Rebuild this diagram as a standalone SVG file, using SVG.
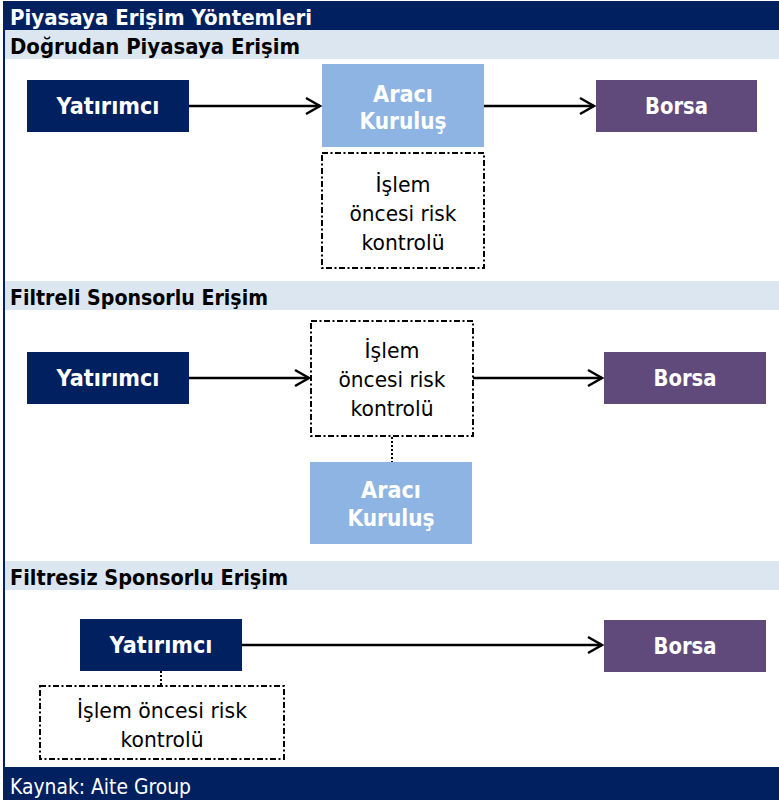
<svg xmlns="http://www.w3.org/2000/svg" width="779" height="803" viewBox="0 0 779 803">
<style>
.navy{fill:#002060}
.band{fill:#DCE6F1}
.inv{fill:#002060}
.bro{fill:#8DB4E2}
.exc{fill:#604A7B}
.risk{fill:#fff;stroke:#000;stroke-width:2;stroke-dasharray:6 2.5 2 2.5}
.hd{font-family:"DejaVu Sans",sans-serif;font-weight:bold;font-size:22px;fill:#000}
.ttl{font-family:"DejaVu Sans",sans-serif;font-weight:bold;font-size:22px;fill:#fff}
.lbl{font-family:"DejaVu Sans",sans-serif;font-weight:bold;font-size:23px;fill:#fff;text-anchor:middle}
.rt{font-family:"DejaVu Sans",sans-serif;font-size:22px;fill:#000;text-anchor:middle}
.src{font-family:"DejaVu Sans",sans-serif;font-size:21px;fill:#fff}
.arr{stroke:#000;stroke-width:2.5;fill:none;marker-end:url(#ah)}
.dot{stroke:#000;stroke-width:2;stroke-dasharray:2 2;fill:none}
</style>
<defs>
<marker id="ah" markerUnits="userSpaceOnUse" viewBox="-17 -11 20 22" markerWidth="20" markerHeight="22" refX="0" refY="0" orient="auto">
<path d="M-14,-8 L0,0 L-14,8" fill="none" stroke="#000" stroke-width="2.5"/>
</marker>
</defs>
<rect x="0" y="0" width="779" height="803" fill="#fff"/>
<!-- frame -->
<rect class="navy" x="3" y="1" width="776" height="29"/>
<rect class="navy" x="3" y="1" width="2" height="799"/>
<rect class="band" x="5" y="30" width="774" height="29"/>
<rect class="band" x="5" y="281" width="774" height="29"/>
<rect class="band" x="5" y="561" width="774" height="29"/>
<rect class="navy" x="3" y="767" width="776" height="33"/>
<text class="ttl" x="10" y="25" textLength="302" lengthAdjust="spacingAndGlyphs">Piyasaya Erişim Yöntemleri</text>
<text class="hd" x="10" y="54" textLength="290" lengthAdjust="spacingAndGlyphs">Doğrudan Piyasaya Erişim</text>
<text class="hd" x="10" y="305" textLength="258" lengthAdjust="spacingAndGlyphs">Filtreli Sponsorlu Erişim</text>
<text class="hd" x="10" y="585" textLength="278" lengthAdjust="spacingAndGlyphs">Filtresiz Sponsorlu Erişim</text>
<text class="src" x="10" y="794" textLength="181" lengthAdjust="spacingAndGlyphs">Kaynak: Aite Group</text>

<g id="connectors">
<line class="arr" x1="189" y1="106" x2="320" y2="106"/>
<line class="arr" x1="484" y1="106" x2="594" y2="106"/>
<line class="arr" x1="189" y1="378" x2="309" y2="378"/>
<line class="arr" x1="473" y1="378" x2="602" y2="378"/>
<line class="dot" x1="392" y1="437" x2="392" y2="462"/>
<line class="arr" x1="242" y1="645" x2="602" y2="645"/>
<line class="dot" x1="161" y1="671" x2="161" y2="686"/>
</g>

<!-- Section 1 -->
<g id="s1-investor">
<rect class="inv" x="27" y="80" width="162" height="52"/>
<text class="lbl" x="108" y="114" textLength="103" lengthAdjust="spacingAndGlyphs">Yatırımcı</text>
</g>
<g id="s1-broker">
<rect class="bro" x="322" y="64" width="162" height="83"/>
<text class="lbl" x="403" y="102" textLength="60" lengthAdjust="spacingAndGlyphs">Aracı</text>
<text class="lbl" x="403" y="129" textLength="87" lengthAdjust="spacingAndGlyphs">Kuruluş</text>
</g>
<g id="s1-exchange">
<rect class="exc" x="596" y="80" width="161" height="52"/>
<text class="lbl" x="676.5" y="114" textLength="63" lengthAdjust="spacingAndGlyphs">Borsa</text>
</g>
<g id="s1-risk">
<rect class="risk" x="322" y="153" width="162" height="115"/>
<text class="rt" x="403" y="192" textLength="55" lengthAdjust="spacingAndGlyphs">İşlem</text>
<text class="rt" x="403" y="221" textLength="107" lengthAdjust="spacingAndGlyphs">öncesi risk</text>
<text class="rt" x="403" y="250" textLength="83" lengthAdjust="spacingAndGlyphs">kontrolü</text>
</g>

<!-- Section 2 -->
<g id="s2-investor">
<rect class="inv" x="27" y="352" width="162" height="52"/>
<text class="lbl" x="108" y="386" textLength="103" lengthAdjust="spacingAndGlyphs">Yatırımcı</text>
</g>
<g id="s2-risk">
<rect class="risk" x="311" y="321" width="162" height="115"/>
<text class="rt" x="392" y="358" textLength="55" lengthAdjust="spacingAndGlyphs">İşlem</text>
<text class="rt" x="392" y="387" textLength="107" lengthAdjust="spacingAndGlyphs">öncesi risk</text>
<text class="rt" x="392" y="416" textLength="83" lengthAdjust="spacingAndGlyphs">kontrolü</text>
</g>
<g id="s2-exchange">
<rect class="exc" x="604" y="352" width="162" height="52"/>
<text class="lbl" x="685" y="386" textLength="63" lengthAdjust="spacingAndGlyphs">Borsa</text>
</g>
<g id="s2-broker">
<rect class="bro" x="310" y="462" width="162" height="82"/>
<text class="lbl" x="391" y="498" textLength="60" lengthAdjust="spacingAndGlyphs">Aracı</text>
<text class="lbl" x="391" y="526" textLength="87" lengthAdjust="spacingAndGlyphs">Kuruluş</text>
</g>

<!-- Section 3 -->
<g id="s3-investor">
<rect class="inv" x="80" y="619" width="162" height="52"/>
<text class="lbl" x="161" y="653" textLength="103" lengthAdjust="spacingAndGlyphs">Yatırımcı</text>
</g>
<g id="s3-exchange">
<rect class="exc" x="604" y="620" width="162" height="52"/>
<text class="lbl" x="685" y="654" textLength="63" lengthAdjust="spacingAndGlyphs">Borsa</text>
</g>
<g id="s3-risk">
<rect class="risk" x="40" y="686" width="244" height="73"/>
<text class="rt" x="162" y="718" textLength="170" lengthAdjust="spacingAndGlyphs">İşlem öncesi risk</text>
<text class="rt" x="162" y="747" textLength="83" lengthAdjust="spacingAndGlyphs">kontrolü</text>
</g>
</svg>
